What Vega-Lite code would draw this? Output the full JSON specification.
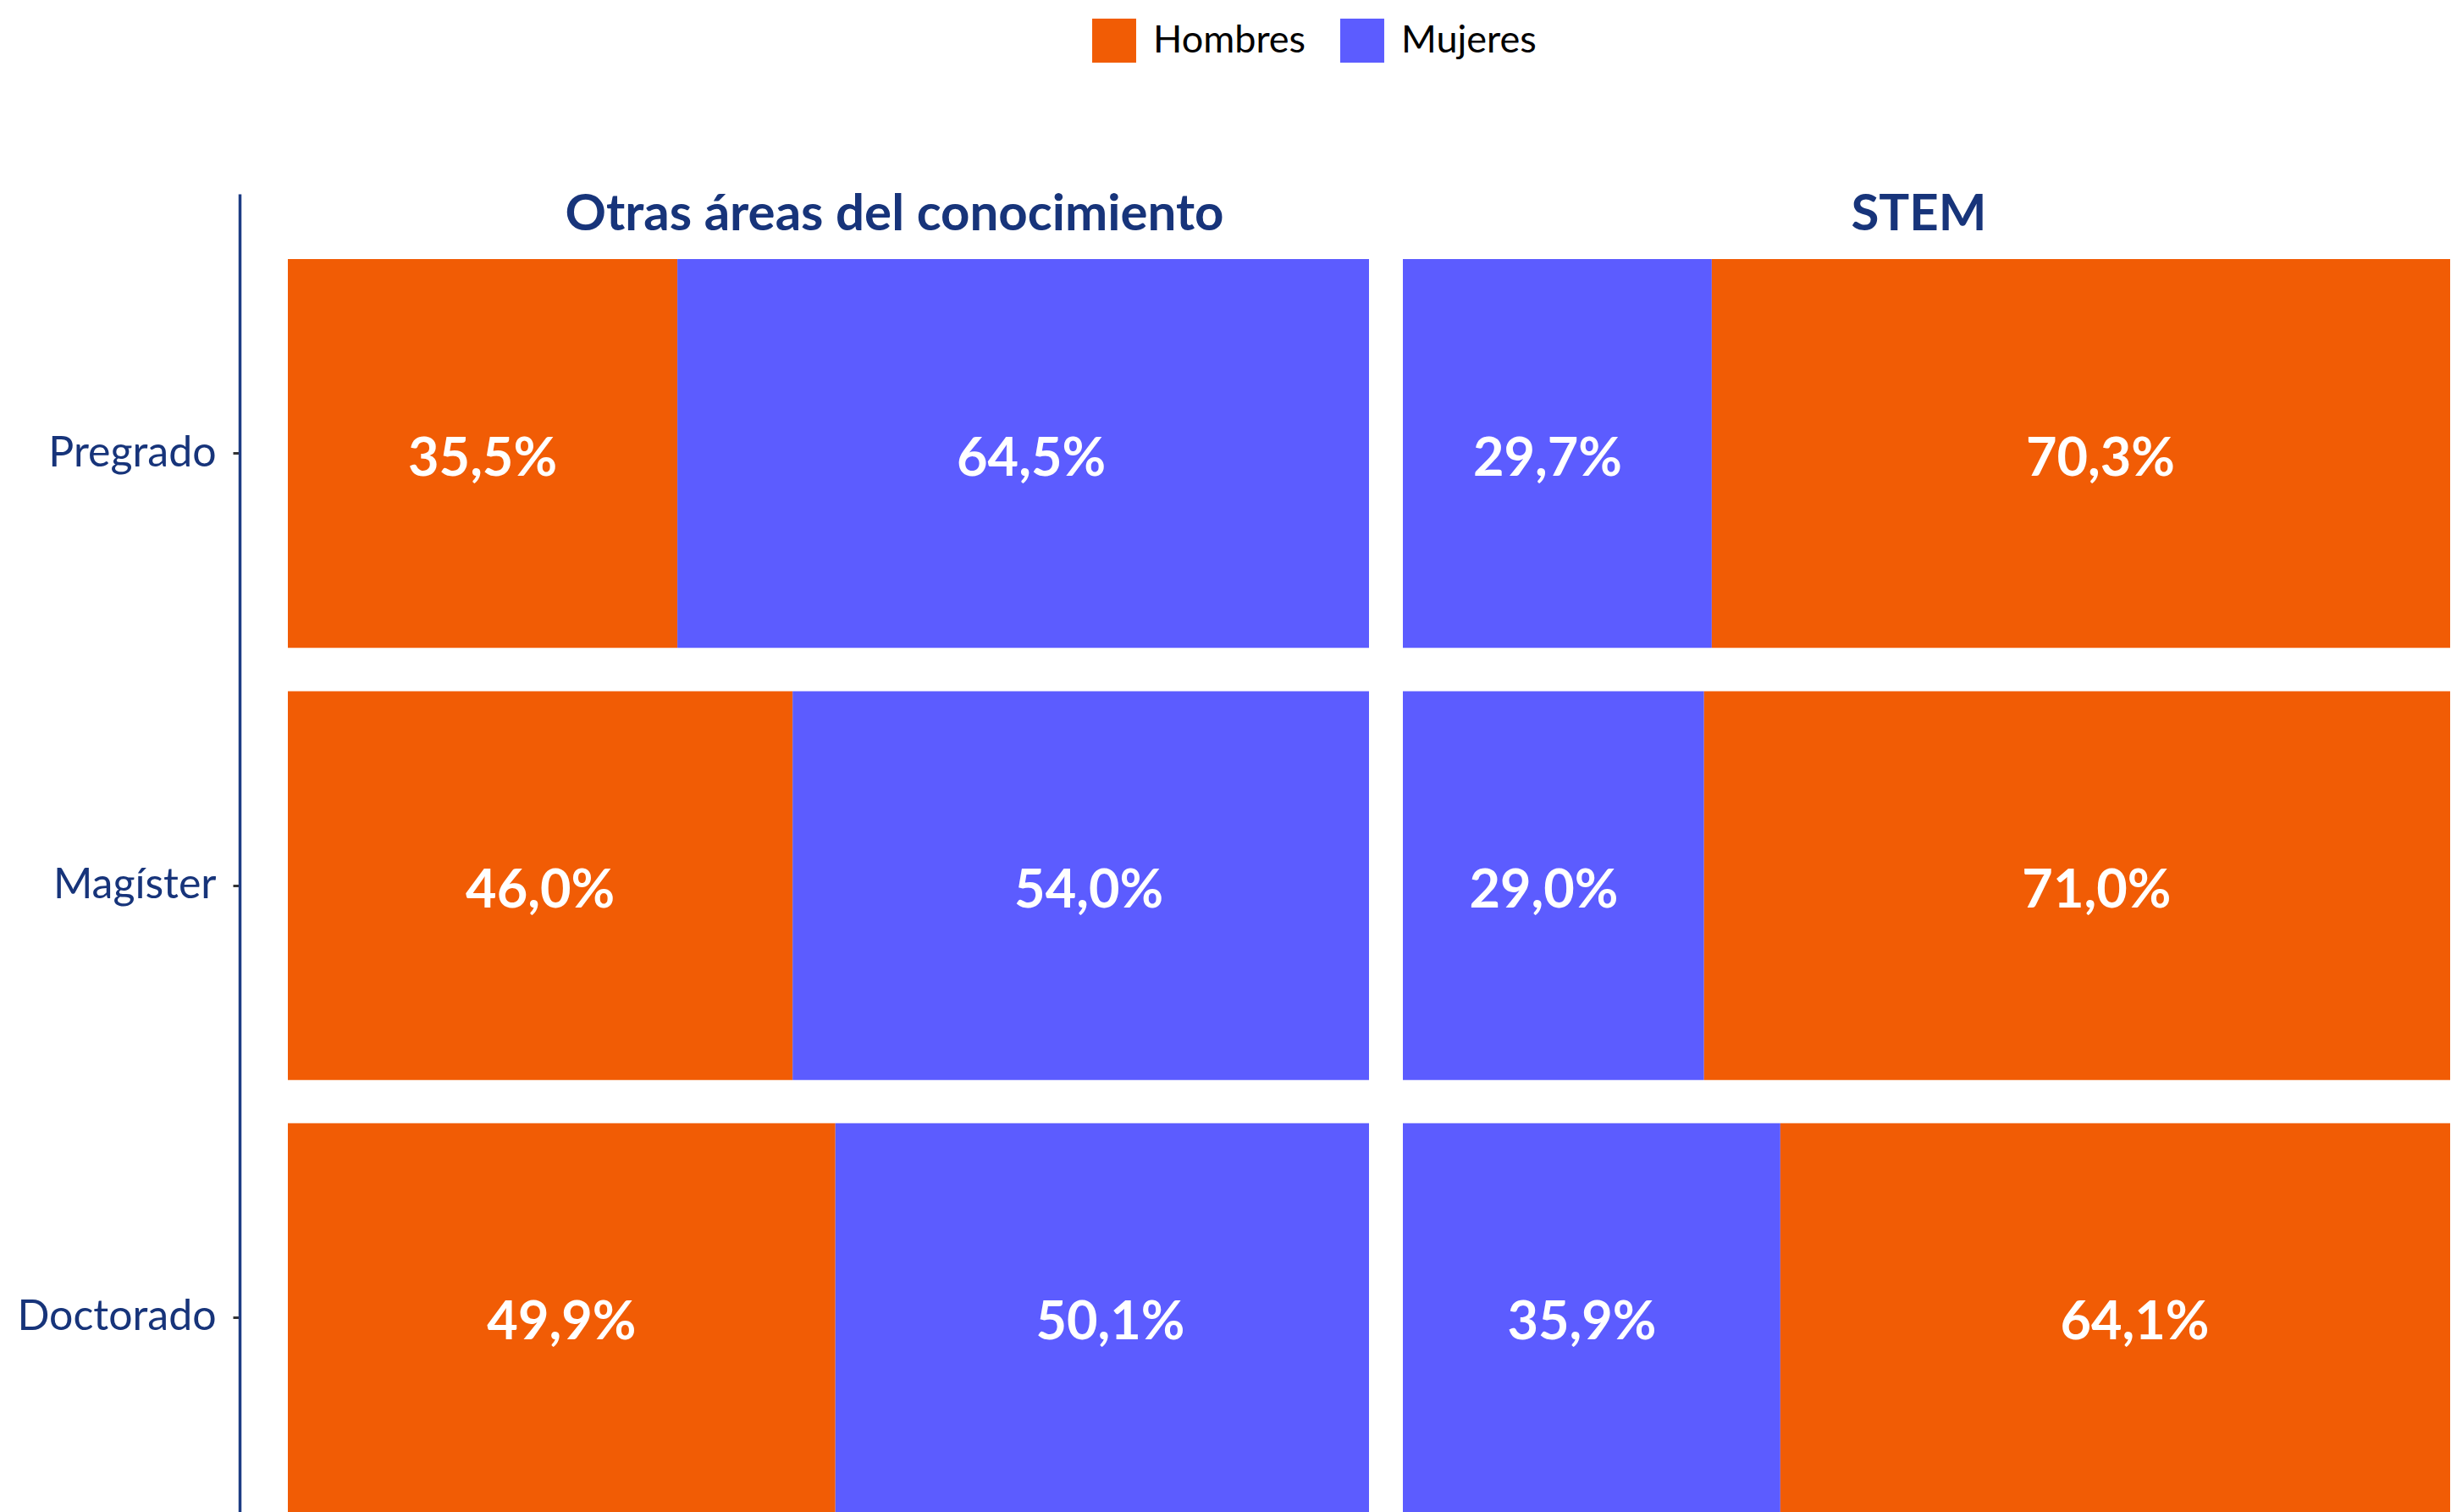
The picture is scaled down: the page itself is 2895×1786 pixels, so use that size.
{
  "$schema": "https://vega.github.io/schema/vega-lite/v6.json",
  "padding": {"left": 19, "top": 22, "right": 0, "bottom": 0},
  "background": "white",
  "data": {
    "values": [
      {"area": "Otras áreas del conocimiento", "nivel": "Pregrado", "sexo": "Hombres", "valor": 0.355},
      {"area": "Otras áreas del conocimiento", "nivel": "Pregrado", "sexo": "Mujeres", "valor": 0.645},
      {"area": "Otras áreas del conocimiento", "nivel": "Magíster", "sexo": "Hombres", "valor": 0.46},
      {"area": "Otras áreas del conocimiento", "nivel": "Magíster", "sexo": "Mujeres", "valor": 0.54},
      {"area": "Otras áreas del conocimiento", "nivel": "Doctorado", "sexo": "Hombres", "valor": 0.499},
      {"area": "Otras áreas del conocimiento", "nivel": "Doctorado", "sexo": "Mujeres", "valor": 0.501},
      {"area": "STEM", "nivel": "Pregrado", "sexo": "Mujeres", "valor": 0.297},
      {"area": "STEM", "nivel": "Pregrado", "sexo": "Hombres", "valor": 0.703},
      {"area": "STEM", "nivel": "Magíster", "sexo": "Mujeres", "valor": 0.29},
      {"area": "STEM", "nivel": "Magíster", "sexo": "Hombres", "valor": 0.71},
      {"area": "STEM", "nivel": "Doctorado", "sexo": "Mujeres", "valor": 0.359},
      {"area": "STEM", "nivel": "Doctorado", "sexo": "Hombres", "valor": 0.641}
    ]
  },
  "spacing": 40,
  "hconcat": [
    {
      "width": 1277,
      "height": 1557,
      "title": {"text": "Otras áreas del conocimiento", "frame": "group", "anchor": "middle", "offset": -43, "baseline": "alphabetic", "dx": 78, "dy": 60},
      "transform": [{"filter": {"field": "area", "equal": "Otras áreas del conocimiento"}}],
      "encoding": {
        "y": {
          "field": "nivel", "type": "nominal",
          "sort": ["Pregrado", "Magíster", "Doctorado"],
          "scale": {"paddingInner": 0.1, "paddingOuter": 0.0755, "align": 1},
          "axis": {"title": null, "offset": 57, "domainColor": "#1D3C84", "domainWidth": 3.5, "tickColor": "#333333", "tickWidth": 3, "tickSize": 8, "labelPadding": 20, "labelFont": "Lato", "labelFontSize": 50, "labelColor": "#17347A", "labelLimit": 0, "grid": false}
        },
        "x": {"field": "valor", "type": "quantitative", "stack": "normalize", "axis": null, "scale": {"domain": [0, 0.9853], "nice": false, "zero": false}},
        "order": {"field": "valor", "sort": "ascending"}
      },
      "layer": [
        {
          "mark": {"type": "bar", "clip": true},
          "encoding": {
            "color": {
              "field": "sexo", "type": "nominal",
              "scale": {"domain": ["Hombres", "Mujeres"], "range": ["#F15C05", "#5C5CFF"]},
              "legend": {"orient": "none", "direction": "horizontal", "legendX": 950, "legendY": -207, "title": null}
            }
          }
        },
        {
          "mark": {"type": "text", "color": "white", "font": "Lato", "fontWeight": "bold", "fontSize": 63, "baseline": "middle", "align": "center", "dy": 7},
          "encoding": {
            "x": {"field": "valor", "type": "quantitative", "stack": "normalize", "bandPosition": 0.5},
            "detail": {"field": "sexo"},
            "text": {"field": "valor", "type": "quantitative", "format": ".1%"}
          }
        }
      ]
    },
    {
      "width": 1237,
      "height": 1557,
      "title": {"text": "STEM", "frame": "group", "anchor": "middle", "offset": -43, "baseline": "alphabetic", "dx": -9, "dy": 60},
      "transform": [{"filter": {"field": "area", "equal": "STEM"}}],
      "encoding": {
        "y": {
          "field": "nivel", "type": "nominal",
          "sort": ["Pregrado", "Magíster", "Doctorado"],
          "scale": {"paddingInner": 0.1, "paddingOuter": 0.0755, "align": 1},
          "axis": null
        },
        "x": {"field": "valor", "type": "quantitative", "stack": "normalize", "axis": null, "scale": {"domain": [0.0176, 0.9648], "nice": false, "zero": false}},
        "order": {"field": "valor", "sort": "ascending"}
      },
      "layer": [
        {
          "mark": {"type": "bar", "clip": true},
          "encoding": {
            "color": {
              "field": "sexo", "type": "nominal",
              "scale": {"domain": ["Hombres", "Mujeres"], "range": ["#F15C05", "#5C5CFF"]},
              "legend": {"orient": "none", "direction": "horizontal", "legendX": 950, "legendY": -207, "title": null}
            }
          }
        },
        {
          "mark": {"type": "text", "color": "white", "font": "Lato", "fontWeight": "bold", "fontSize": 63, "baseline": "middle", "align": "center", "dy": 7},
          "encoding": {
            "x": {"field": "valor", "type": "quantitative", "stack": "normalize", "bandPosition": 0.5},
            "detail": {"field": "sexo"},
            "text": {"field": "valor", "type": "quantitative", "format": ".1%"}
          }
        }
      ]
    }
  ],
  "config": {
    "locale": {"number": {"decimal": ",", "thousands": ".", "grouping": [3], "currency": ["$", ""]}},
    "view": {"stroke": null},
    "title": {"font": "Lato", "fontSize": 60, "fontWeight": "bold", "color": "#17347A"},
    "legend": {"symbolType": "square", "symbolSize": 2700, "symbolStrokeWidth": 0, "symbolOpacity": 1, "labelFont": "Lato", "labelFontSize": 45, "labelColor": "black", "labelOffset": 20, "columnPadding": 40, "labelLimit": 0}
  }
}
